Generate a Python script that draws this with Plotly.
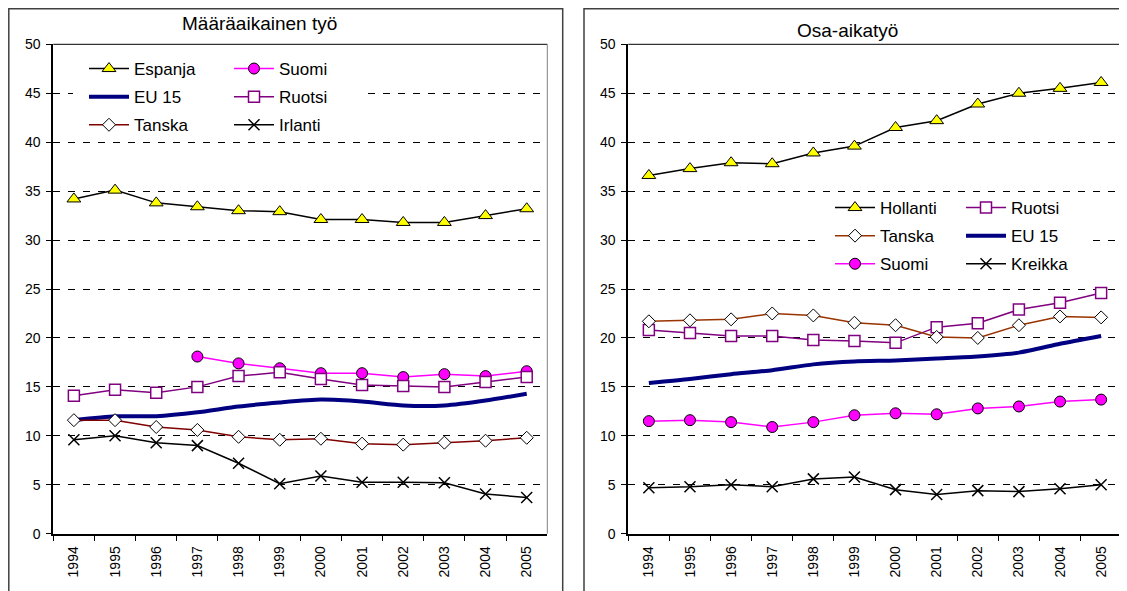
import plotly.graph_objects as go

years = [str(y) for y in range(1994, 2006)]

# Määräaikainen työ (left)
espanja = [34.2, 35.1, 33.8, 33.4, 33.0, 32.9, 32.1, 32.1, 31.8, 31.8, 32.5, 33.2]
suomi_m = [None, None, None, 18.1, 17.4, 16.9, 16.4, 16.4, 16.0, 16.3, 16.1, 16.6]
eu15_m = [11.6, 12.0, 12.0, 12.4, 13.0, 13.4, 13.7, 13.5, 13.1, 13.1, 13.6, 14.3]
ruotsi_m = [14.1, 14.7, 14.4, 15.0, 16.1, 16.5, 15.8, 15.2, 15.1, 15.0, 15.5, 16.0]
tanska_m = [11.6, 11.6, 10.9, 10.6, 9.9, 9.6, 9.7, 9.2, 9.1, 9.3, 9.5, 9.8]
irlanti = [9.6, 10.0, 9.3, 9.0, 7.2, 5.1, 5.9, 5.25, 5.25, 5.2, 4.05, 3.7]

# Osa-aikatyö (right)
hollanti = [36.6, 37.3, 37.9, 37.8, 38.9, 39.6, 41.5, 42.2, 43.9, 45.0, 45.5, 46.1]
ruotsi_o = [20.8, 20.5, 20.2, 20.2, 19.8, 19.7, 19.5, 21.1, 21.5, 22.9, 23.6, 24.6]
tanska_o = [21.7, 21.8, 21.9, 22.5, 22.3, 21.55, 21.3, 20.1, 20.0, 21.3, 22.2, 22.1]
eu15_o = [15.4, 15.8, 16.3, 16.7, 17.3, 17.6, 17.7, 17.9, 18.1, 18.5, 19.4, 20.2]
suomi_o = [11.5, 11.6, 11.4, 10.9, 11.4, 12.1, 12.3, 12.2, 12.8, 13.0, 13.5, 13.7]
kreikka = [4.7, 4.8, 5.0, 4.8, 5.6, 5.8, 4.5, 4.0, 4.4, 4.3, 4.6, 5.0]

# the page body has an 8px margin, so the figure is a bit smaller than the window
PAGE_OFF = 8
W, H = 1127 - PAGE_OFF, 591 - PAGE_OFF
FONT = "Arial, 'Liberation Sans', sans-serif"


def px_x(v):
    # page pixel -> paper fraction
    return (v - PAGE_OFF) / W


def px_y(v):
    return (H - (v - PAGE_OFF)) / H


TRI = dict(symbol="triangle-up", size=12, color="#FFFF00", line=dict(color="black", width=1))
CIRC = dict(symbol="circle", size=11, color="#FF00FF", line=dict(color="black", width=1))
SQ = dict(symbol="square", size=11, color="white", line=dict(color="#800080", width=1.5))
DIA = dict(symbol="diamond", size=10, color="white", line=dict(color="black", width=1))
XM = dict(symbol="x-thin", size=11, color="black", line=dict(color="black", width=1.5))

# name, values, line colour, line width, marker, legend column
left_series = [
    ("Espanja", espanja, "black", 1.5, TRI, "legend"),
    ("Suomi", suomi_m, "#FF00FF", 1.5, CIRC, "legend2"),
    ("EU 15", eu15_m, "#000080", 4, None, "legend"),
    ("Ruotsi", ruotsi_m, "#800080", 1.5, SQ, "legend2"),
    ("Tanska", tanska_m, "#800000", 1.5, DIA, "legend"),
    ("Irlanti", irlanti, "black", 1.5, XM, "legend2"),
]
right_series = [
    ("Hollanti", hollanti, "black", 1.5, TRI, "legend3"),
    ("Ruotsi", ruotsi_o, "#800080", 1.5, SQ, "legend4"),
    ("Tanska", tanska_o, "#993300", 1.5, DIA, "legend3"),
    ("EU 15", eu15_o, "#000080", 4, None, "legend4"),
    ("Suomi", suomi_o, "#FF00FF", 1.5, CIRC, "legend3"),
    ("Kreikka", kreikka, "black", 1.5, XM, "legend4"),
]

fig = go.Figure()
for side, series in (("", left_series), ("2", right_series)):
    for name, vals, color, width, marker, leg in series:
        is_eu = marker is None
        fig.add_trace(go.Scatter(
            x=years, y=vals, name=name,
            mode="lines" if is_eu else "lines+markers",
            line=dict(color=color, width=width, shape="spline" if is_eu else "linear",
                      smoothing=0.6),
            marker=marker,
            xaxis="x" + side, yaxis="y" + side,
            legend=leg, legendgroup=leg + name,
            connectgaps=False,
        ))

axis_common = dict(
    showline=True, linecolor="black", linewidth=2,
    ticks="outside", tickcolor="black", ticklen=5, tickwidth=1,
    tickfont=dict(family=FONT, size=14, color="black"),
)
yaxis_common = dict(
    axis_common, range=[0, 50], dtick=5, showgrid=True, gridcolor="black",
    gridwidth=1, griddash="7px,8px", zeroline=False, ticklabelstandoff=3,
)
xaxis_common = dict(
    axis_common, type="category", range=[-0.5, len(years) - 0.5],
    tickson="boundaries", tickangle=-90, showgrid=False, ticklabelstandoff=5,
)

y_dom = [px_y(533.7), px_y(44.3)]
left_dom = [px_x(53.3), px_x(547.3)]
right_dom = [px_x(628.3), px_x(1121.7)]

legend_common = dict(
    font=dict(family=FONT, size=17, color="black"), bgcolor="rgba(0,0,0,0)",
    borderwidth=0, orientation="v", xanchor="left", yanchor="top",
    traceorder="grouped", tracegroupgap=3, itemwidth=40, itemclick=False,
)

fig.update_layout(
    width=W, height=H, autosize=False,
    margin=dict(l=0, r=0, t=0, b=0, autoexpand=False),
    paper_bgcolor="white", plot_bgcolor="white",
    font=dict(family=FONT, color="black"),
    xaxis=dict(xaxis_common, domain=left_dom, anchor="y"),
    yaxis=dict(yaxis_common, domain=y_dom, anchor="x"),
    xaxis2=dict(xaxis_common, domain=right_dom, anchor="y2"),
    yaxis2=dict(yaxis_common, domain=y_dom, anchor="x2"),
    legend=dict(legend_common, x=px_x(84), y=px_y(51)),
    legend2=dict(legend_common, x=px_x(229), y=px_y(51)),
    legend3=dict(legend_common, x=px_x(830), y=px_y(190)),
    legend4=dict(legend_common, x=px_x(961), y=px_y(190)),
    showlegend=True,
)

# chart titles
fig.add_annotation(text="Määräaikainen työ", x=px_x(259.8), y=px_y(23.3), xref="paper",
                   yref="paper", xanchor="center", yanchor="middle", showarrow=False,
                   font=dict(family=FONT, size=19, color="black"))
fig.add_annotation(text="Osa-aikatyö", x=px_x(847.2), y=px_y(30.7), xref="paper",
                   yref="paper", xanchor="center", yanchor="middle", showarrow=False,
                   font=dict(family=FONT, size=19, color="black"))

# white legend boxes hide the gridlines behind the legend entries
for x0, x1, y0, y1 in ((73, 362, 53, 138), (822, 1090, 196, 276)):
    fig.add_shape(type="rect", xref="paper", yref="paper", layer="above",
                  x0=px_x(x0), x1=px_x(x1), y0=px_y(y1), y1=px_y(y0),
                  fillcolor="white", line=dict(width=0))

# chart frames and plot-area top / right edges
for x0, x1 in ((PAGE_OFF + 0.8, 562.7), (584, 1140)):
    fig.add_shape(type="rect", xref="paper", yref="paper", x0=px_x(x0), x1=px_x(x1),
                  y0=-0.05, y1=px_y(PAGE_OFF + 0.8), line=dict(color="#404040", width=1.5))
for dom in (left_dom, right_dom):
    fig.add_shape(type="line", xref="paper", yref="paper", x0=dom[0], x1=dom[1],
                  y0=y_dom[1], y1=y_dom[1], line=dict(color="black", width=1))
    fig.add_shape(type="line", xref="paper", yref="paper", x0=dom[1], x1=dom[1],
                  y0=y_dom[0], y1=y_dom[1], line=dict(color="#808080", width=1))

fig.write_html("out.html")
